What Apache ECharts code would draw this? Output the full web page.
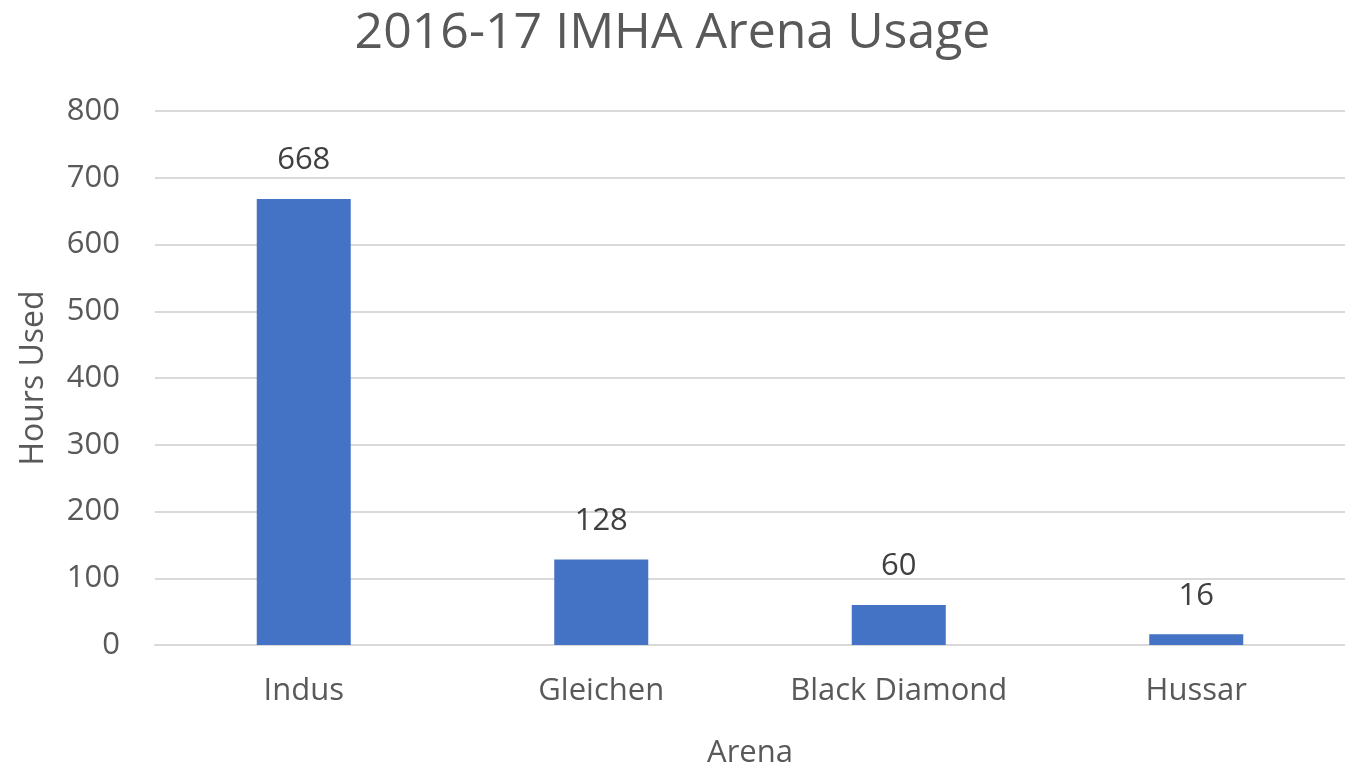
<!DOCTYPE html>
<html><head><meta charset="utf-8">
<script src="https://cdn.jsdelivr.net/npm/echarts@6/dist/echarts.min.js"></script>
<style>html,body{margin:0;padding:0;background:#fff}#c{width:1345px;height:774px}</style>
</head><body><div id="c"></div>
<script>
const categories = ["Indus", "Gleichen", "Black Diamond", "Hussar"];
const hoursUsed = [668, 128, 60, 16];
const chartTitle = "2016-17 IMHA Arena Usage";
const xAxisName = "Arena";
const yAxisName = "Hours Used";

const FONT = "Open Sans";
const chart = echarts.init(document.getElementById('c'), null, {renderer: 'canvas'});
chart.setOption({
  animation: false,
  backgroundColor: '#ffffff',
  title: {
    text: chartTitle, left: 'center', top: 4,
    textStyle: {fontFamily: FONT, fontSize: 50, fontWeight: 'normal', color: '#595959'}
  },
  grid: {left: 155, width: 1197, top: 111, bottom: 125, containLabel: false},
  xAxis: {
    type: 'category', data: categories,
    name: xAxisName, nameLocation: 'middle', nameGap: 93,
    nameTextStyle: {fontFamily: FONT, fontSize: 31, color: '#595959'},
    axisLine: {show: true, lineStyle: {color: '#d9d9d9', width: 2}},
    axisTick: {show: false},
    axisLabel: {fontFamily: FONT, fontSize: 31, color: '#595959', margin: 31}
  },
  yAxis: {
    type: 'value', min: 0, max: 800, interval: 100,
    name: yAxisName, nameLocation: 'middle', nameGap: 105, nameRotate: 90,
    nameTextStyle: {fontFamily: FONT, fontSize: 32, color: '#595959'},
    axisLine: {show: false}, axisTick: {show: false},
    axisLabel: {fontFamily: FONT, fontSize: 31, color: '#595959', margin: 35},
    splitLine: {lineStyle: {color: '#d9d9d9', width: 2}}
  },
  series: [{
    type: 'bar', data: hoursUsed, barWidth: 94,
    itemStyle: {color: '#4472c4'},
    label: {show: true, position: 'top', distance: 23,
      fontFamily: FONT, fontSize: 31, color: '#404040'}
  }]
});
</script></body></html>
